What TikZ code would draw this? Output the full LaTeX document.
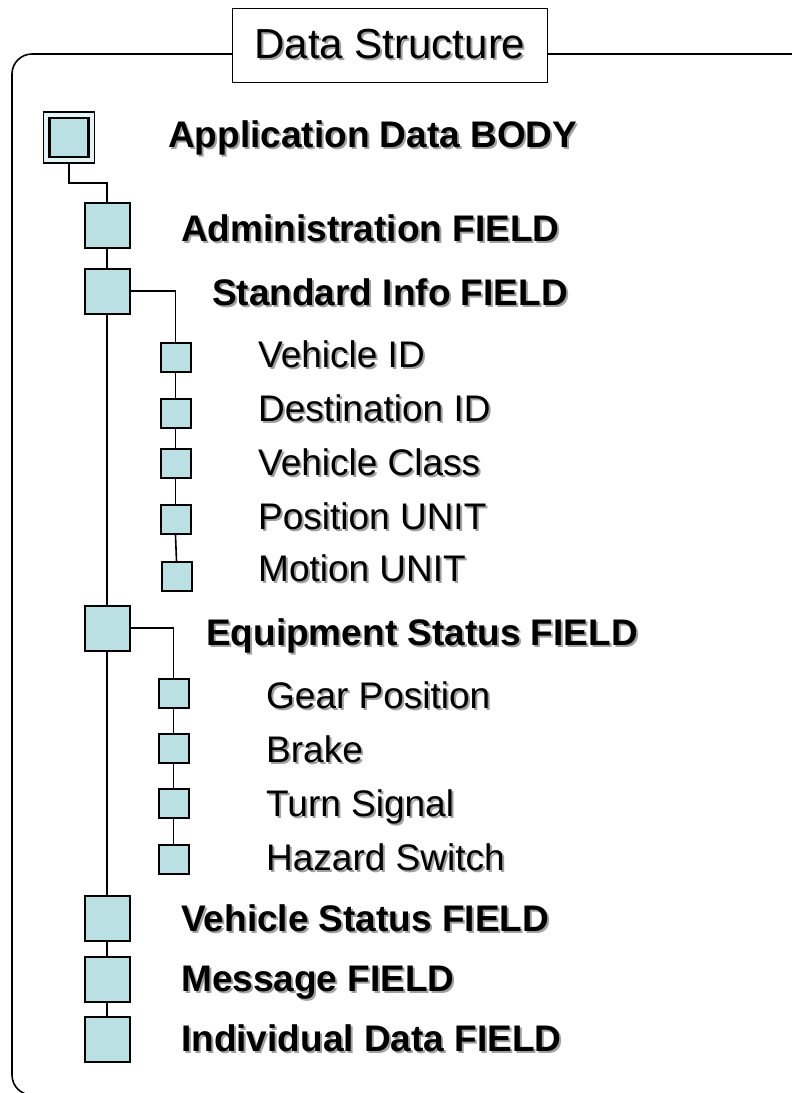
\documentclass[tikz,border=0pt]{standalone}
\usepackage{fontspec}
\setmainfont{Liberation Sans}
\definecolor{boxfill}{RGB}{187,224,227}
\definecolor{shadowgray}{RGB}{160,160,160}
\newcommand{\shtext}[1]{\makebox[0pt][l]{\kern2pt\raisebox{-2pt}{\textcolor{shadowgray}{#1}}}#1}
\begin{document}
\begin{tikzpicture}[x=1pt,y=-1pt,
  bigbox/.style={draw, line width=2pt, fill=boxfill, minimum width=45pt, minimum height=45pt, inner sep=0},
  smallbox/.style={draw, line width=2pt, fill=boxfill, minimum width=30pt, minimum height=29pt, inner sep=0},
  conn/.style={line width=1.6pt},
  boldtext/.style={anchor=base west, inner sep=0, font=\fontsize{37}{42}\selectfont\bfseries},
  plaintext/.style={anchor=base west, inner sep=0, font=\fontsize{37}{42}\selectfont}]
\useasboundingbox (0,0) rectangle (792,1093);
\begin{scope}
\clip (0,0) rectangle (792,1093);
\draw[line width=1.6pt, rounded corners=20pt] (12,54) rectangle (812,1095);
\end{scope}
\node[draw, fill=white, line width=1.8pt, minimum width=315pt, minimum height=74pt, inner sep=0,
  font=\fontsize{42}{48}\selectfont] (title) at (390,45.5) {\shtext{Data Structure}};
% root
\node[draw, line width=1.6pt, fill=boxfill!40, minimum size=51pt, inner sep=0] (root) at (69,137.5) {};
\node[draw, line width=2.6pt, fill=boxfill, minimum size=39pt, inner sep=0] (rootin) at (root.center) {};
% main column
\node[bigbox] (admin) at (107,225) {};
\node[bigbox] (std) at (107,291) {};
\node[bigbox] (equip) at (107,628) {};
\node[bigbox] (vstat) at (107,918) {};
\node[bigbox] (msg) at (107,979.5) {};
\node[bigbox] (indiv) at (107,1039) {};
% standard info sub-items
\node[smallbox] (s1) at (175.5,357) {};
\node[smallbox] (s2) at (175.5,413.5) {};
\node[smallbox] (s3) at (175.5,463) {};
\node[smallbox] (s4) at (175.5,519.5) {};
\node[smallbox] (s5) at (176.5,576.5) {};
% equipment sub-items
\node[smallbox] (e1) at (173.5,693) {};
\node[smallbox] (e2) at (173.5,748) {};
\node[smallbox] (e3) at (173.5,803.5) {};
\node[smallbox] (e4) at (173.5,859) {};
% connectors
\draw[conn] (root.south) -- ++(0,19) -| (admin.north);
\draw[conn] (admin.south) -- (std.north);
\draw[conn] (std.south) -- (equip.north);
\draw[conn] (equip.south) -- (vstat.north);
\draw[conn] (vstat.south) -- (msg.north);
\draw[conn] (msg.south) -- (indiv.north);
\draw[conn] (std.east) -| (s1.north);
\draw[conn] (s1.south) -- (s2.north);
\draw[conn] (s2.south) -- (s3.north);
\draw[conn] (s3.south) -- (s4.north);
\draw[conn] (s4.south) -- (s5.north);
\draw[conn] (equip.east) -| (e1.north);
\draw[conn] (e1.south) -- (e2.north);
\draw[conn] (e2.south) -- (e3.north);
\draw[conn] (e3.south) -- (e4.north);
% labels
\node[boldtext] (tapp) at (168,147) {\shtext{Application Data BODY}};
\node[boldtext] (tadm) at (181,241) {\shtext{Administration FIELD}};
\node[boldtext] (tstd) at (212,305) {\shtext{Standard Info FIELD}};
\node[plaintext] (ts1) at (258,367) {\shtext{Vehicle ID}};
\node[plaintext] (ts2) at (258,421) {\shtext{Destination ID}};
\node[plaintext] (ts3) at (258,475) {\shtext{Vehicle Class}};
\node[plaintext] (ts4) at (258,529) {\shtext{Position UNIT}};
\node[plaintext] (ts5) at (258,581) {\shtext{Motion UNIT}};
\node[boldtext] (teq) at (206,645) {\shtext{Equipment Status FIELD}};
\node[plaintext] (te1) at (266,708) {\shtext{Gear Position}};
\node[plaintext] (te2) at (266,762) {\shtext{Brake}};
\node[plaintext] (te3) at (266,816) {\shtext{Turn Signal}};
\node[plaintext] (te4) at (266,870) {\shtext{Hazard Switch}};
\node[boldtext] (tvs) at (181,931) {\shtext{Vehicle Status FIELD}};
\node[boldtext] (tmsg) at (181,991) {\shtext{Message FIELD}};
\node[boldtext] (tind) at (181,1051) {\shtext{Individual Data FIELD}};
\end{tikzpicture}
\end{document}
